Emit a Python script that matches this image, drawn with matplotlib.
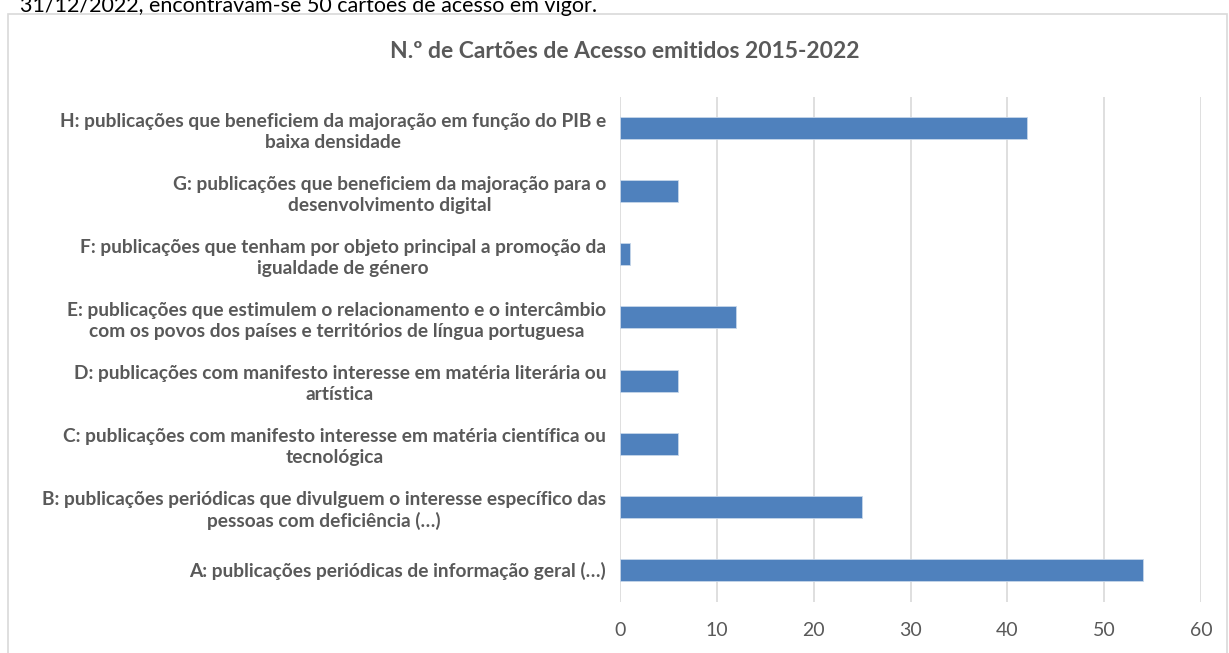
import matplotlib.pyplot as plt
from matplotlib.patches import Rectangle

# categories listed bottom to top (A at the bottom)
labels = [
    "A: publicações periódicas de informação geral (…)",
    "B: publicações periódicas que divulguem o interesse específico das\npessoas com deficiência (…)",
    "C: publicações com manifesto interesse em matéria científica ou\ntecnológica",
    "D: publicações com manifesto interesse em matéria literária ou\nartística",
    "E: publicações que estimulem o relacionamento e o intercâmbio\ncom os povos dos países e territórios de língua portuguesa",
    "F: publicações que tenham por objeto principal a promoção da\nigualdade de género",
    "G: publicações que beneficiem da majoração para o\ndesenvolvimento digital",
    "H: publicações que beneficiem da majoração em função do PIB e\nbaixa densidade",
]
values = [54, 25, 6, 6, 12, 1, 6, 42]
xticks = [0, 10, 20, 30, 40, 50, 60]
title = "N.º de Cartões de Acesso emitidos 2015-2022"

grey = "#595959"
plt.rcParams['font.family'] = ['Lato', 'DejaVu Sans']

fig = plt.figure(figsize=(12.29, 6.53), dpi=100)
ax = fig.add_axes([620 / 1229, 1 - 601.5 / 653, 581 / 1229, 505 / 653])

# chart frame (Excel style)
fig.patches.append(Rectangle((8 / 1229, -0.05), 1219 / 1229, 1 - 14 / 653 + 0.05,
                             transform=fig.transFigure, fill=False,
                             edgecolor="#d9d9d9", lw=1.2))

# cropped line of text above the chart (cut off at the top in the source too)
fig.text(20 / 1229, 1 - 12 / 653, "31/12/2022, encontravam-se 50 cartões de acesso em vigor.",
         fontsize=15.5, color="black", va="baseline", ha="left")

pos = range(len(values))
ax.barh(pos, values, height=0.35, color="#4f81bd", edgecolor="#c6d6ea", lw=0.6, zorder=3)

ax.set_xlim(0, 60)
ax.set_ylim(-0.5, len(values) - 0.5)
ax.set_xticks(xticks)
ax.set_xticklabels([str(t) for t in xticks], fontsize=14, color=grey)
ax.set_yticks(list(pos))
ax.set_yticklabels(labels, fontsize=13.8, fontweight="bold", color=grey,
                   ha="center", multialignment="center", linespacing=1.3)
ax.tick_params(axis="y", length=0, pad=0)
ax.tick_params(axis="x", length=0, pad=15)
# center the multi-line labels left of the plot area
fig.canvas.draw()
rend = fig.canvas.get_renderer()
axw = ax.get_window_extent(rend).width
for t in ax.get_yticklabels():
    w = t.get_window_extent(rend).width
    t.set_x(-(14 + w / 2) / axw)

ax.grid(axis="x", color="#d9d9d9", lw=1.2, zorder=0)
for s in ax.spines.values():
    s.set_visible(False)

fig.text(625 / 1229, 1 - 51 / 653, title, fontsize=16.5, fontweight="bold",
         color=grey, ha="center", va="center")

fig.savefig("out.png", dpi=100)
